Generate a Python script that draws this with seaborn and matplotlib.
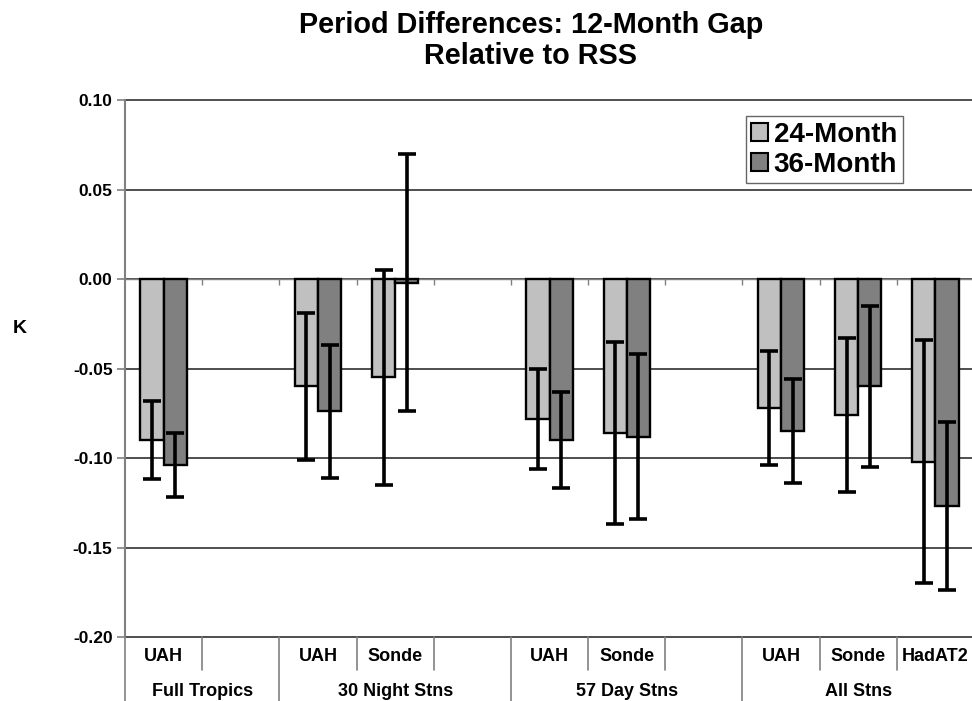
import numpy as np
import pandas as pd
import matplotlib
matplotlib.use("Agg")
import matplotlib.pyplot as plt
import matplotlib.transforms as mtransforms
from matplotlib.ticker import FormatStrFormatter
import seaborn as sns

# data (K, relative to RSS)
groups = ["Full Tropics", "30 Night Stns", "57 Day Stns", "All Stns"]
group_sizes = [2, 3, 3, 3]
slot_labels = ["UAH", "", "UAH", "Sonde", "", "UAH", "Sonde", "", "UAH", "Sonde", "HadAT2"]
series = ["24-Month", "36-Month"]
vals_24 = [-0.090, np.nan, -0.060, -0.055, np.nan, -0.078, -0.086, np.nan, -0.072, -0.076, -0.102]
err_24 = [0.022, np.nan, 0.041, 0.060, np.nan, 0.028, 0.051, np.nan, 0.032, 0.043, 0.068]
vals_36 = [-0.104, np.nan, -0.074, -0.002, np.nan, -0.090, -0.088, np.nan, -0.085, -0.060, -0.127]
err_36 = [0.018, np.nan, 0.037, 0.072, np.nan, 0.027, 0.046, np.nan, 0.029, 0.045, 0.047]
yticks = [0.10, 0.05, 0.00, -0.05, -0.10, -0.15, -0.20]

sns.set_theme(style="white")
plt.rcParams["font.family"] = ["Liberation Sans", "DejaVu Sans"]
plt.rcParams["axes.unicode_minus"] = False
plt.rcParams["text.color"] = "black"

# one unique id per category slot
slot_group = []
for g, n in zip(groups, group_sizes):
    slot_group += [g] * n
slot_ids = [f"{g}:{i}" for i, g in enumerate(slot_group)]

rows = []
for sid, v24, v36 in zip(slot_ids, vals_24, vals_36):
    rows.append({"slot": sid, "period": series[0], "K": v24})
    rows.append({"slot": sid, "period": series[1], "K": v36})
df = pd.DataFrame(rows).dropna()
errs = {series[0]: err_24, series[1]: err_36}

fig = plt.figure(figsize=(9.72, 7.01), dpi=100)
ax = fig.add_axes([125 / 972, 1 - 637 / 701, 849 / 972, 537 / 701])

sns.barplot(data=df, x="slot", y="K", hue="period", order=slot_ids,
            hue_order=series, palette=["#c0c0c0", "#808080"], width=0.6,
            edgecolor="black", linewidth=1.7, errorbar=None, ax=ax, zorder=3)

# error bars from the drawn bars
for cont, name in zip(ax.containers, series):
    for p in cont.patches:
        xc = p.get_x() + p.get_width() / 2
        idx = int(round(xc))
        ax.errorbar(xc, p.get_height(), yerr=errs[name][idx], fmt="none",
                    ecolor="black", elinewidth=2.6, capsize=6.5, capthick=2.6,
                    zorder=4)

ax.set_xlim(-0.5, len(slot_ids) - 0.5)
ax.set_ylim(-0.20, 0.10)
ax.set_yticks(yticks)
ax.yaxis.set_major_formatter(FormatStrFormatter("%.2f"))
ax.tick_params(axis="y", left=True, direction="out", length=6, width=1.2,
               color="#808080", labelcolor="black", pad=3, labelsize=12.5)
for t in ax.get_yticklabels():
    t.set_fontweight("bold")
ax.grid(axis="y", color="#404040", linewidth=1.3, zorder=0)
for line in ax.get_ygridlines():
    line.set_clip_on(False)

for s in ["top", "right"]:
    ax.spines[s].set_visible(False)
ax.spines["left"].set_color("#808080")
ax.spines["left"].set_linewidth(1.5)
ax.spines["bottom"].set_position(("data", 0))
ax.spines["bottom"].set_color("#808080")
ax.spines["bottom"].set_linewidth(1.0)
ax.set_xticks(np.arange(0.5, len(slot_ids) - 0.5, 1))
ax.set_xticklabels([])
ax.tick_params(axis="x", bottom=True, direction="out", length=4, width=1,
               color="#808080")
ax.set_xlabel("")
ax.set_ylabel("")

# two-row category axis under the plot
trans = mtransforms.blended_transform_factory(ax.transData, ax.transAxes)
for i, lab in enumerate(slot_labels):
    ax.text(i, -0.037, lab, transform=trans, ha="center", va="center",
            fontsize=13, fontweight="bold", color="black")
edges = np.cumsum([0] + group_sizes) - 0.5
for g, a, b in zip(groups, edges[:-1], edges[1:]):
    ax.text((a + b) / 2, -0.101, g, transform=trans, ha="center",
            va="center", fontsize=13, fontweight="bold", color="black")
for x in np.arange(-0.5, len(slot_ids) - 0.5, 1):
    low = -0.125 if x in edges else -0.062
    ax.plot([x, x], [0, low], transform=trans, color="#808080", lw=1.2,
            clip_on=False)

sns.move_legend(ax, "upper right", bbox_to_anchor=(0.916, 0.970), title=None,
                frameon=True, fancybox=False, borderaxespad=0,
                prop={"weight": "bold", "size": 20},
                handlelength=0.6, handleheight=0.6, handletextpad=0.2,
                labelspacing=0.15, borderpad=0.2)
leg = ax.get_legend()
leg.get_frame().set_edgecolor("#404040")
leg.get_frame().set_linewidth(1.0)
for h in leg.legend_handles:
    h.set_edgecolor("black")
    h.set_linewidth(1.5)
for t in leg.get_texts():
    t.set_color("black")

fig.text(531 / 972, 1 - 11 / 701, "Period Differences: 12-Month Gap\nRelative to RSS",
         ha="center", va="top", fontsize=20.8, fontweight="bold",
         linespacing=1.12, color="black")
fig.text(20 / 972, 1 - 328 / 701, "K", ha="center", va="center",
         fontsize=14, fontweight="bold", color="black")

fig.savefig("out.png", dpi=100)
